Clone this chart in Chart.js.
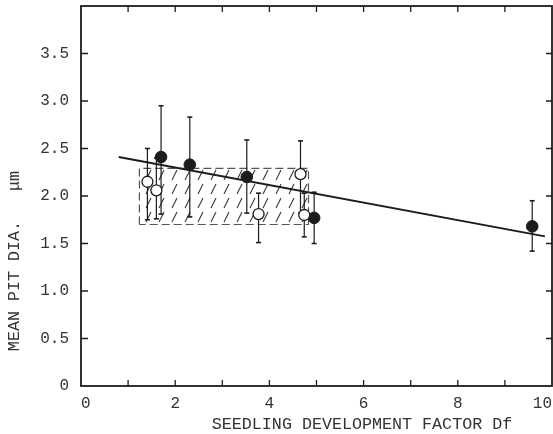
<!DOCTYPE html>
<html>
<head>
<meta charset="utf-8">
<script src="https://cdn.jsdelivr.net/npm/chart.js@4.4.0/dist/chart.umd.min.js"></script>
<style>
html, body { margin: 0; padding: 0; background: #fff; }
#wrap { width: 553px; height: 434px; }
</style>
</head>
<body>
<div id="wrap"><canvas id="myChart"></canvas></div>
<script>
'use strict'

// data

// filled circles
var filledX  = [1.70, 2.31, 3.52, 4.95, 9.58];
var filledY  = [2.41, 2.33, 2.20, 1.77, 1.68];
var filledLo = [1.81, 1.78, 1.82, 1.50, 1.42];
var filledHi = [2.95, 2.83, 2.59, 2.04, 1.95];

// open circles
var openX  = [1.41, 1.60, 3.77, 4.66, 4.74];
var openY  = [2.15, 2.06, 1.81, 2.23, 1.80];
var openLo = [1.75, 1.76, 1.51, 1.82, 1.57];
var openHi = [2.50, 2.40, 2.03, 2.58, 2.03];

// regression line
var fitX = [0.80, 9.85];
var fitY = [2.41, 1.575];

// hatched range (closed outline)
var boxX = [1.24, 1.24, 4.83, 4.83, 1.24];
var boxY = [1.70, 2.29, 2.29, 1.70, 1.70];

// tick labels
var xTickLabels = ['0', '', '2', '', '4', '', '6', '', '8', '', '10'];
var yTickLabels = ['0', '0.5', '1.0', '1.5', '2.0', '2.5', '3.0', '3.5', ''];

var xTitle = 'SEEDLING DEVELOPMENT FACTOR Df';
var yTitle = 'MEAN PIT DIA.   \u03bcm';

var ink = '#1c1c1c';
var font = 'Liberation Mono';

function toPoints(xs, ys) {
	return xs.map(function(x, i) { return { x: x, y: ys[i] }; });
}

// error bars as one broken line
function errorPoints() {
	var pts = [];
	var xs = filledX.concat(openX);
	var lo = filledLo.concat(openLo);
	var hi = filledHi.concat(openHi);
	xs.forEach(function(x, i) {
		pts.push({ x: x, y: lo[i] });
		pts.push({ x: x, y: hi[i] });
		pts.push({ x: x, y: null });
	});
	return pts;
}

// hatch pattern
function hatch() {
	var c = document.createElement('canvas');
	c.width = 13;
	c.height = 14;
	var g = c.getContext('2d');
	g.strokeStyle = '#3a3a3a';
	g.lineWidth = 1.1;
	g.beginPath();
	g.moveTo(3, 12);
	g.lineTo(8, 2);
	g.stroke();
	return g.createPattern(c, 'repeat');
}

// no extra padding from the tick labels
function noPad(s) {
	s.paddingTop = 0;
	s.paddingBottom = 0;
	s.paddingLeft = 0;
	s.paddingRight = 0;
}

// frame and inward ticks
var frame = {
	id: 'frame',
	afterDraw: function(chart) {
		var ctx = chart.ctx;
		var a = chart.chartArea;
		var xs = chart.scales.x;
		var ys = chart.scales.y;
		ctx.save();
		ctx.strokeStyle = ink;
		ctx.lineWidth = 1.3;
		xs.ticks.forEach(function(t) {
			var px = xs.getPixelForValue(t.value);
			if (t.value <= 0 || t.value >= 10) return;
			ctx.beginPath();
			ctx.moveTo(px, a.bottom);
			ctx.lineTo(px, a.bottom - 6);
			ctx.moveTo(px, a.top);
			ctx.lineTo(px, a.top + 6);
			ctx.stroke();
		});
		ys.ticks.forEach(function(t) {
			var py = ys.getPixelForValue(t.value);
			if (t.value <= 0 || t.value >= 4) return;
			ctx.beginPath();
			ctx.moveTo(a.left, py);
			ctx.lineTo(a.left + 7, py);
			ctx.moveTo(a.right, py);
			ctx.lineTo(a.right - 6, py);
			ctx.stroke();
		});
		ctx.lineWidth = 1.8;
		ctx.strokeRect(a.left, a.top, a.right - a.left, a.bottom - a.top);

		// axis titles
		ctx.fillStyle = '#333';
		ctx.font = '16.7px "' + font + '"';
		ctx.textBaseline = 'middle';
		ctx.textAlign = 'center';
		ctx.fillText(xTitle, 362, 425);
		ctx.translate(15, 261);
		ctx.rotate(-Math.PI / 2);
		ctx.fillText(yTitle, 0, 0);
		ctx.restore();
	}
};

var ctx = document.getElementById('myChart').getContext('2d');

var chart = new Chart(ctx, {
	type: 'scatter',
	data: {
		datasets: [{
			label: 'open',
			data: toPoints(openX, openY),
			backgroundColor: '#fff',
			borderColor: ink,
			borderWidth: 1.3,
			pointRadius: 5.5,
		},
		{
			label: 'filled',
			data: toPoints(filledX, filledY),
			backgroundColor: ink,
			borderColor: ink,
			pointRadius: 5.8,
		},
		{
			label: 'error',
			type: 'line',
			data: errorPoints(),
			borderColor: ink,
			borderWidth: 1.2,
			spanGaps: false,
			pointStyle: 'line',
			pointRadius: 2.5,
			pointBorderWidth: 1.6,
			pointBorderColor: ink,
		},
		{
			label: 'fit',
			type: 'line',
			data: toPoints(fitX, fitY),
			borderColor: ink,
			borderWidth: 2,
			pointRadius: 0,
		},
		{
			label: 'range',
			type: 'line',
			data: toPoints(boxX, boxY),
			borderColor: '#555',
			borderWidth: 1.2,
			borderDash: [8, 4],
			backgroundColor: hatch(),
			fill: 'shape',
			pointRadius: 0,
			tension: 0,
		}]
	},
	options: {
		animation: false,
		responsive: true,
		maintainAspectRatio: false,
		devicePixelRatio: 1,
		layout: { autoPadding: false, padding: { top: 6, right: 1, left: 0, bottom: 0 } },
		plugins: {
			legend: { display: false },
			tooltip: { enabled: false },
		},
		scales: {
			x: {
				type: 'linear',
				min: 0,
				max: 10,
				afterFit: function(s) { s.height = 48; noPad(s); },
				grid: { display: false, drawTicks: false },
				border: { display: false },
				ticks: {
					stepSize: 1,
					autoSkip: false,
					maxRotation: 0,
					align: 'inner',
					padding: 8,
					color: '#333',
					font: { family: font, size: 16 },
					callback: function(v, i) { return xTickLabels[i]; }
				}
			},
			y: {
				type: 'linear',
				min: 0,
				max: 4,
				afterFit: function(s) { s.width = 81; noPad(s); },
				grid: { display: false, drawTicks: false },
				border: { display: false },
				ticks: {
					stepSize: 0.5,
					autoSkip: false,
					padding: 12,
					color: '#333',
					font: { family: font, size: 16 },
					callback: function(v, i) { return yTickLabels[i]; }
				}
			}
		}
	},
	plugins: [frame]
});
</script>
</body>
</html>
